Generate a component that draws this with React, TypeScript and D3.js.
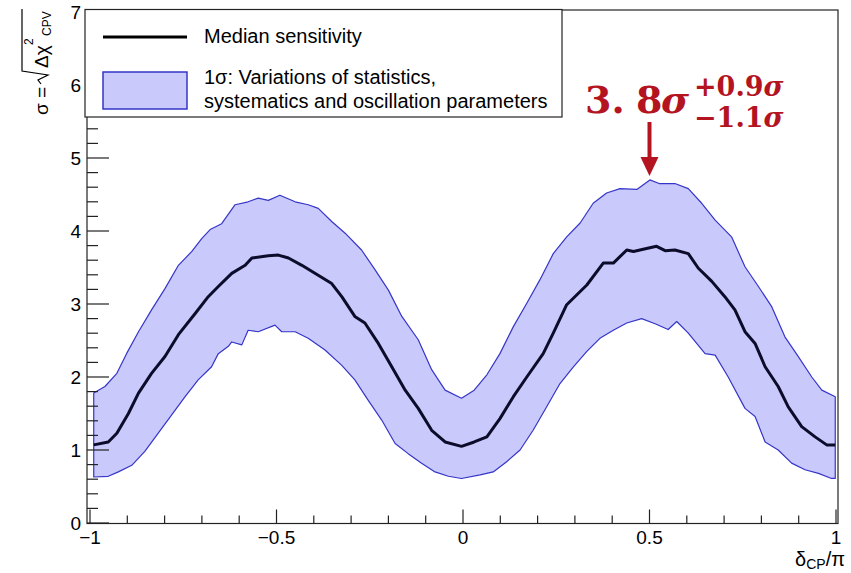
import React from "react";
import * as d3 from "d3";

const medianX = [-0.99, -0.951, -0.928, -0.897, -0.87, -0.835, -0.799, -0.763, -0.718, -0.683, -0.656, -0.62, -0.584, -0.566, -0.522, -0.495, -0.468, -0.432, -0.397, -0.352, -0.325, -0.29, -0.263, -0.227, -0.191, -0.155, -0.12, -0.084, -0.048, -0.004, 0.03, 0.064, 0.099, 0.135, 0.171, 0.215, 0.242, 0.278, 0.332, 0.376, 0.403, 0.439, 0.457, 0.492, 0.519, 0.542, 0.568, 0.604, 0.631, 0.667, 0.702, 0.729, 0.756, 0.783, 0.81, 0.845, 0.872, 0.908, 0.944, 0.975, 0.998];
const medianY = [1.07, 1.11, 1.23, 1.5, 1.78, 2.05, 2.28, 2.58, 2.87, 3.1, 3.24, 3.42, 3.53, 3.63, 3.66, 3.67, 3.63, 3.53, 3.42, 3.28, 3.1, 2.83, 2.74, 2.46, 2.14, 1.82, 1.57, 1.27, 1.11, 1.05, 1.11, 1.18, 1.43, 1.73, 2.0, 2.32, 2.6, 2.99, 3.26, 3.56, 3.56, 3.74, 3.72, 3.76, 3.79, 3.73, 3.74, 3.69, 3.49, 3.31, 3.1, 2.92, 2.62, 2.46, 2.14, 1.87, 1.59, 1.32, 1.18, 1.07, 1.07];

const upperX = [-0.99, -0.96, -0.928, -0.902, -0.87, -0.835, -0.799, -0.763, -0.727, -0.7, -0.678, -0.647, -0.611, -0.576, -0.549, -0.522, -0.491, -0.45, -0.415, -0.388, -0.352, -0.316, -0.272, -0.236, -0.2, -0.164, -0.12, -0.084, -0.048, -0.004, 0.03, 0.064, 0.099, 0.135, 0.171, 0.206, 0.242, 0.278, 0.314, 0.349, 0.385, 0.421, 0.466, 0.501, 0.526, 0.568, 0.604, 0.64, 0.676, 0.72, 0.756, 0.792, 0.828, 0.863, 0.899, 0.935, 0.962, 0.998];
const upperY = [1.78, 1.87, 2.05, 2.32, 2.62, 2.92, 3.21, 3.53, 3.72, 3.9, 4.02, 4.1, 4.36, 4.4, 4.45, 4.42, 4.49, 4.4, 4.36, 4.31, 4.13, 3.97, 3.74, 3.47, 3.19, 2.83, 2.51, 2.1, 1.82, 1.71, 1.82, 2.03, 2.32, 2.69, 3.01, 3.33, 3.69, 3.92, 4.11, 4.38, 4.52, 4.58, 4.57, 4.7, 4.65, 4.65, 4.58, 4.38, 4.15, 3.92, 3.51, 3.24, 2.96, 2.55, 2.28, 2.0, 1.82, 1.73];

const lowerX = [-0.99, -0.951, -0.924, -0.888, -0.853, -0.817, -0.781, -0.745, -0.71, -0.674, -0.656, -0.629, -0.62, -0.593, -0.576, -0.549, -0.504, -0.486, -0.45, -0.415, -0.37, -0.325, -0.29, -0.254, -0.218, -0.182, -0.147, -0.111, -0.075, -0.039, -0.004, 0.046, 0.081, 0.117, 0.153, 0.188, 0.224, 0.26, 0.296, 0.332, 0.367, 0.403, 0.439, 0.479, 0.515, 0.55, 0.573, 0.604, 0.649, 0.676, 0.711, 0.756, 0.783, 0.81, 0.845, 0.881, 0.917, 0.953, 0.988, 0.998];
const lowerY = [0.63, 0.64, 0.7, 0.79, 0.98, 1.23, 1.48, 1.73, 1.96, 2.14, 2.32, 2.42, 2.48, 2.44, 2.64, 2.62, 2.71, 2.62, 2.62, 2.53, 2.37, 2.16, 1.96, 1.68, 1.41, 1.09, 0.95, 0.82, 0.7, 0.64, 0.61, 0.66, 0.7, 0.84, 1.0, 1.27, 1.59, 1.91, 2.14, 2.35, 2.53, 2.64, 2.74, 2.8, 2.73, 2.65, 2.76, 2.6, 2.32, 2.3, 2.0, 1.57, 1.46, 1.11, 1.0, 0.82, 0.73, 0.68, 0.61, 0.61];

const xTickLabels = ["\u22121", "\u22120.5", "0", "0.5", "1"];
const xTickValues = [-1, -0.5, 0, 0.5, 1];
const yTickValues = [0, 1, 2, 3, 4, 5, 6, 7];

const legendLine = "Median sensitivity";
const legendBand1 = "1\u03c3: Variations of statistics,";
const legendBand2 = "systematics and oscillation parameters";

const peakInt = "3.";
const peakDec = "8";
const peakPlus = "+0.9";
const peakMinus = "\u22121.1";
const peakX = 0.5;

const W = 851;
const H = 573;
const FONT = "'Liberation Sans', Arial, Helvetica, sans-serif";
const SERIF = "'DejaVu Serif', 'Liberation Serif', serif";
const RED = "#b3141f";

export default function App() {
  const x = d3.scaleLinear().domain([-1, 1]).range([90, 836]);
  const y = d3.scaleLinear().domain([0, 7]).range([523, 12]);
  const frame = { left: 87, right: 838, top: 10, bottom: 523.5 };

  const median = medianX.map((v, i) => [v, medianY[i]] as [number, number]);
  const upper = upperX.map((v, i) => [v, upperY[i]] as [number, number]);
  const lower = lowerX.map((v, i) => [v, lowerY[i]] as [number, number]);
  const poly = upper.concat(lower.slice().reverse());

  const line = d3
    .line<[number, number]>()
    .x((d) => x(d[0]))
    .y((d) => y(d[1]))
    .curve(d3.curveLinear);

  const bandPath = line(poly) + "Z";
  const medianPath = line(median) || "";

  const xMinor = d3.range(-10, 11).map((i) => i / 10).filter((v) => Math.abs(v * 2 - Math.round(v * 2)) > 1e-6);
  const yMinor = d3.range(0, 36).map((i) => i / 5).filter((v) => Math.abs(v - Math.round(v)) > 1e-6);

  const px = x(peakX);

  return (
    <svg width={W} height={H} style={{ position: "absolute", left: 0, top: 0, background: "#fff" }} fontFamily={FONT}>
      <rect x={0} y={0} width={W} height={H} fill="#fff" />
      {/* band */}
      <path d={bandPath} fill="#c9c9fb" stroke="#3535c8" strokeWidth={1.2} strokeLinejoin="round" />
      {/* median */}
      <path d={medianPath} fill="none" stroke="#0c0c2a" strokeWidth={3} strokeLinejoin="round" />

      {/* frame */}
      <rect x={frame.left} y={frame.top} width={frame.right - frame.left} height={frame.bottom - frame.top} fill="none" stroke="#222" strokeWidth={1.2} />

      {/* x ticks */}
      {xTickValues.map((v) => (
        <line key={"xM" + v} x1={x(v)} x2={x(v)} y1={frame.bottom} y2={frame.bottom - 14} stroke="#222" strokeWidth={1.2} />
      ))}
      {xMinor.map((v) => (
        <line key={"xm" + v} x1={x(v)} x2={x(v)} y1={frame.bottom} y2={frame.bottom - 8} stroke="#222" strokeWidth={1.2} />
      ))}
      {xTickValues.map((v, i) => (
        <text key={"xl" + v} x={x(v)} y={544} fontSize={19} textAnchor="middle" fill="#000">
          {xTickLabels[i]}
        </text>
      ))}

      {/* y ticks */}
      {yTickValues.map((v) => (
        <line key={"yM" + v} x1={frame.left} x2={frame.left + 22} y1={y(v)} y2={y(v)} stroke="#222" strokeWidth={1.2} />
      ))}
      {yMinor.map((v) => (
        <line key={"ym" + v} x1={frame.left} x2={frame.left + 11} y1={y(v)} y2={y(v)} stroke="#222" strokeWidth={1.2} />
      ))}
      {yTickValues.map((v) => (
        <text key={"yl" + v} x={81} y={y(v) + 7} fontSize={19} textAnchor="end" fill="#000">
          {v}
        </text>
      ))}

      {/* x title */}
      <text x={845} y={566} fontSize={20} textAnchor="end" fill="#000">
        {"\u03b4"}
        <tspan fontSize={14} dy={3}>CP</tspan>
        <tspan fontSize={20} dy={-3}>{"/\u03c0"}</tspan>
      </text>

      {/* y title (rotated) */}
      <g transform="translate(48,115) rotate(-90)" fill="#000">
        <text x={0} y={0} fontSize={19}>{"\u03c3 ="}</text>
        <path d="M 31 -7 L 35 -10 L 40 0 L 44 -26 L 106 -26" fill="none" stroke="#000" strokeWidth={1.2} />
        <text x={47} y={0} fontSize={19}>{"\u0394\u03c7"}</text>
        <text x={70} y={-15} fontSize={12}>2</text>
        <text x={79} y={3} fontSize={12}>CPV</text>
      </g>

      {/* legend */}
      <rect x={85} y={9.5} width={477} height={107.5} fill="#fff" stroke="#222" strokeWidth={1.2} />
      <line x1={103} x2={187} y1={37} y2={37} stroke="#000" strokeWidth={3} />
      <text x={204} y={43} fontSize={20} fill="#000">{legendLine}</text>
      <rect x={103} y={72} width={84} height={37} fill="#c9c9fb" stroke="#3535c8" strokeWidth={1.5} />
      <text x={204} y={84} fontSize={20} fill="#000">{legendBand1}</text>
      <text x={204} y={108} fontSize={20} fill="#000">{legendBand2}</text>

      {/* annotation */}
      <g fill={RED} fontFamily={SERIF} fontWeight="bold">
        <text x={585} y={113} fontSize={38}>{peakInt}</text>
        <text x={636} y={113} fontSize={38}>{peakDec}</text>
        <text x={661} y={113} fontSize={38} fontStyle="italic">{"\u03c3"}</text>
        <text x={694} y={96} fontSize={27}>
          {peakPlus}
          <tspan fontStyle="italic">{"\u03c3"}</tspan>
        </text>
        <text x={694} y={127} fontSize={27}>
          {peakMinus}
          <tspan fontStyle="italic">{"\u03c3"}</tspan>
        </text>
      </g>
      <line x1={px} x2={px} y1={122} y2={159} stroke={RED} strokeWidth={4} />
      <path d={`M ${px - 9} 157 L ${px + 9} 157 L ${px} 176 Z`} fill={RED} />
    </svg>
  );
}
